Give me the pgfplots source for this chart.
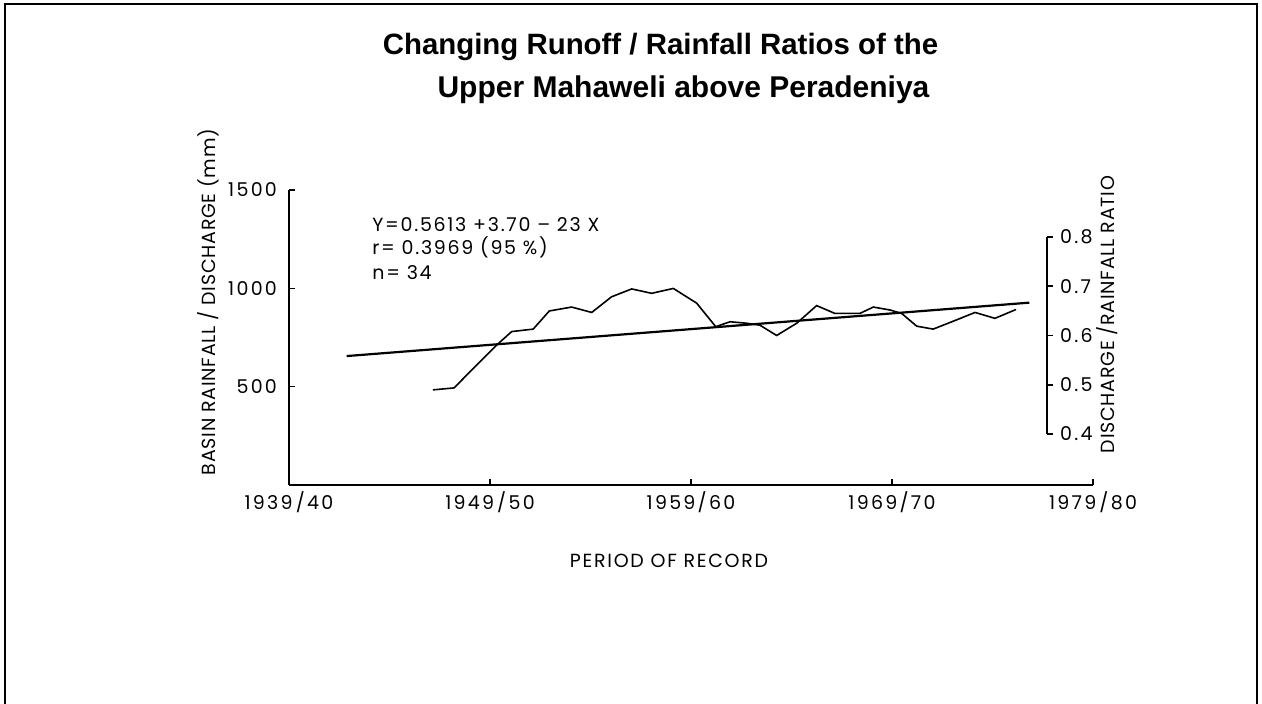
\documentclass[border=0pt]{standalone}
\usepackage{fontspec}
\setmainfont{Poppins}
\newfontfamily\titlefont{Liberation Sans}
\newfontfamily\tickfont[LetterSpace=12]{Poppins}
\newfontfamily\labfont[LetterSpace=4]{Poppins}
\newfontfamily\notefont[LetterSpace=9]{Poppins}
\usepackage{pgfplots}
\pgfplotsset{compat=1.18}

% 1 px of the reference = 0.5pt
\begin{document}
\begin{tikzpicture}
    \useasboundingbox (0,0) rectangle (631pt,352pt);
    % page frame
    \draw[line width=1pt] (2.5pt,0pt) -- (2.5pt,350pt) -- (628.5pt,350pt) -- (628.5pt,0pt);

    \pgfplotsset{
        every axis/.style={
            scale only axis,
            anchor=south west,
            at={(144.5pt,109.5pt)},
            width=402pt, height=147.5pt,
            xmin=1939, xmax=1979,
            /pgf/number format/assume math mode=true,
            /pgf/number format/1000 sep={},
            tick label style={font=\tickfont\fontsize{9.5}{11}\selectfont},
        }
    }

    % left scale: rainfall / discharge (mm)
    \begin{axis}[
        ymin=0, ymax=1500,
        axis x line*=bottom, axis y line*=left,
        axis line style={-, line width=1pt},
        xtick={1939,1949,1959,1969,1979},
        xticklabels={1939\,/40,1949\,/50,1959/60,1969/70,1979\,/80},
        ytick={500,1000,1500},
        yticklabel style={xshift=-2.5pt},
        tick align=inside,
        major tick length=3pt,
        tick style={line width=0.8pt, black},
    ]
    \end{axis}

    % ratio series, drawn on a hidden axis over the same area
    \begin{axis}[
        hide axis,
        ymin=0.2939, ymax=0.8959,
    ]
        \addplot[black, line width=0.8pt] coordinates {
            (1946.16,0.488) (1947.21,0.492) (1948.25,0.535) (1949.40,0.582)
            (1950.08,0.607) (1951.15,0.612) (1951.95,0.649) (1953.06,0.657)
            (1954.06,0.646) (1955.05,0.678) (1956.05,0.694) (1957.04,0.685)
            (1958.12,0.695) (1959.28,0.665) (1960.23,0.617) (1960.94,0.627)
            (1961.77,0.624) (1962.43,0.620) (1963.26,0.599) (1964.26,0.624)
            (1965.25,0.660) (1966.16,0.644) (1967.40,0.644) (1968.07,0.657)
            (1968.90,0.651) (1969.48,0.644) (1970.23,0.618) (1971.05,0.612)
            (1972.10,0.629) (1973.13,0.646) (1974.12,0.634) (1975.17,0.652)
        };
        % fitted regression line
        \addplot[black, line width=1.1pt] coordinates {
            (1941.87,0.557) (1975.83,0.666)
        };
    \end{axis}

    % right scale: discharge / rainfall ratio
    \begin{axis}[
        at={(523.5pt,135pt)}, anchor=south east,
        width=1pt, height=98.5pt,
        xmin=0, xmax=1,
        ymin=0.4, ymax=0.8,
        axis x line=none,
        axis y line*=right,
        axis line style={-, line width=1pt},
        ytick={0.4,0.5,0.6,0.7,0.8},
        yticklabels={0.4,0.5,0.6,0.7,0.8},
        tick align=outside,
        major tick length=3pt,
        tick style={line width=0.8pt, black},
    ]
    \end{axis}

    % titles and labels
    \node[font=\titlefont\bfseries\fontsize{14.7}{17}\selectfont] at (330.25pt,328.5pt) {Changing Runoff / Rainfall Ratios of the};
    \node[font=\titlefont\bfseries\fontsize{15}{17}\selectfont] at (341.75pt,307pt) {Upper Mahaweli above Peradeniya};

    \node[rotate=90, font=\labfont\fontsize{9.5}{11}\selectfont] at (104pt,201pt) {BASIN RAINFALL / DISCHARGE (mm)};
    \node[rotate=90, font=\labfont\fontsize{9.5}{11}\selectfont] at (553.5pt,194.75pt) {DISCHARGE /RAINFALL RATIO};
    \node[font=\notefont\fontsize{9.5}{11}\selectfont] at (334.5pt,71.5pt) {PERIOD OF RECORD};

    \node[anchor=west, inner sep=0pt, font=\notefont\fontsize{9.5}{11}\selectfont] at (186pt,239.5pt) {Y=0.5613 +3.70 – 23 X};
    \node[anchor=west, inner sep=0pt, font=\notefont\fontsize{9.5}{11}\selectfont] at (186pt,228.5pt) {r= 0.3969 (95 \%)};
    \node[anchor=west, inner sep=0pt, font=\notefont\fontsize{9.5}{11}\selectfont] at (186pt,215.5pt) {n= 34};
\end{tikzpicture}
\end{document}
